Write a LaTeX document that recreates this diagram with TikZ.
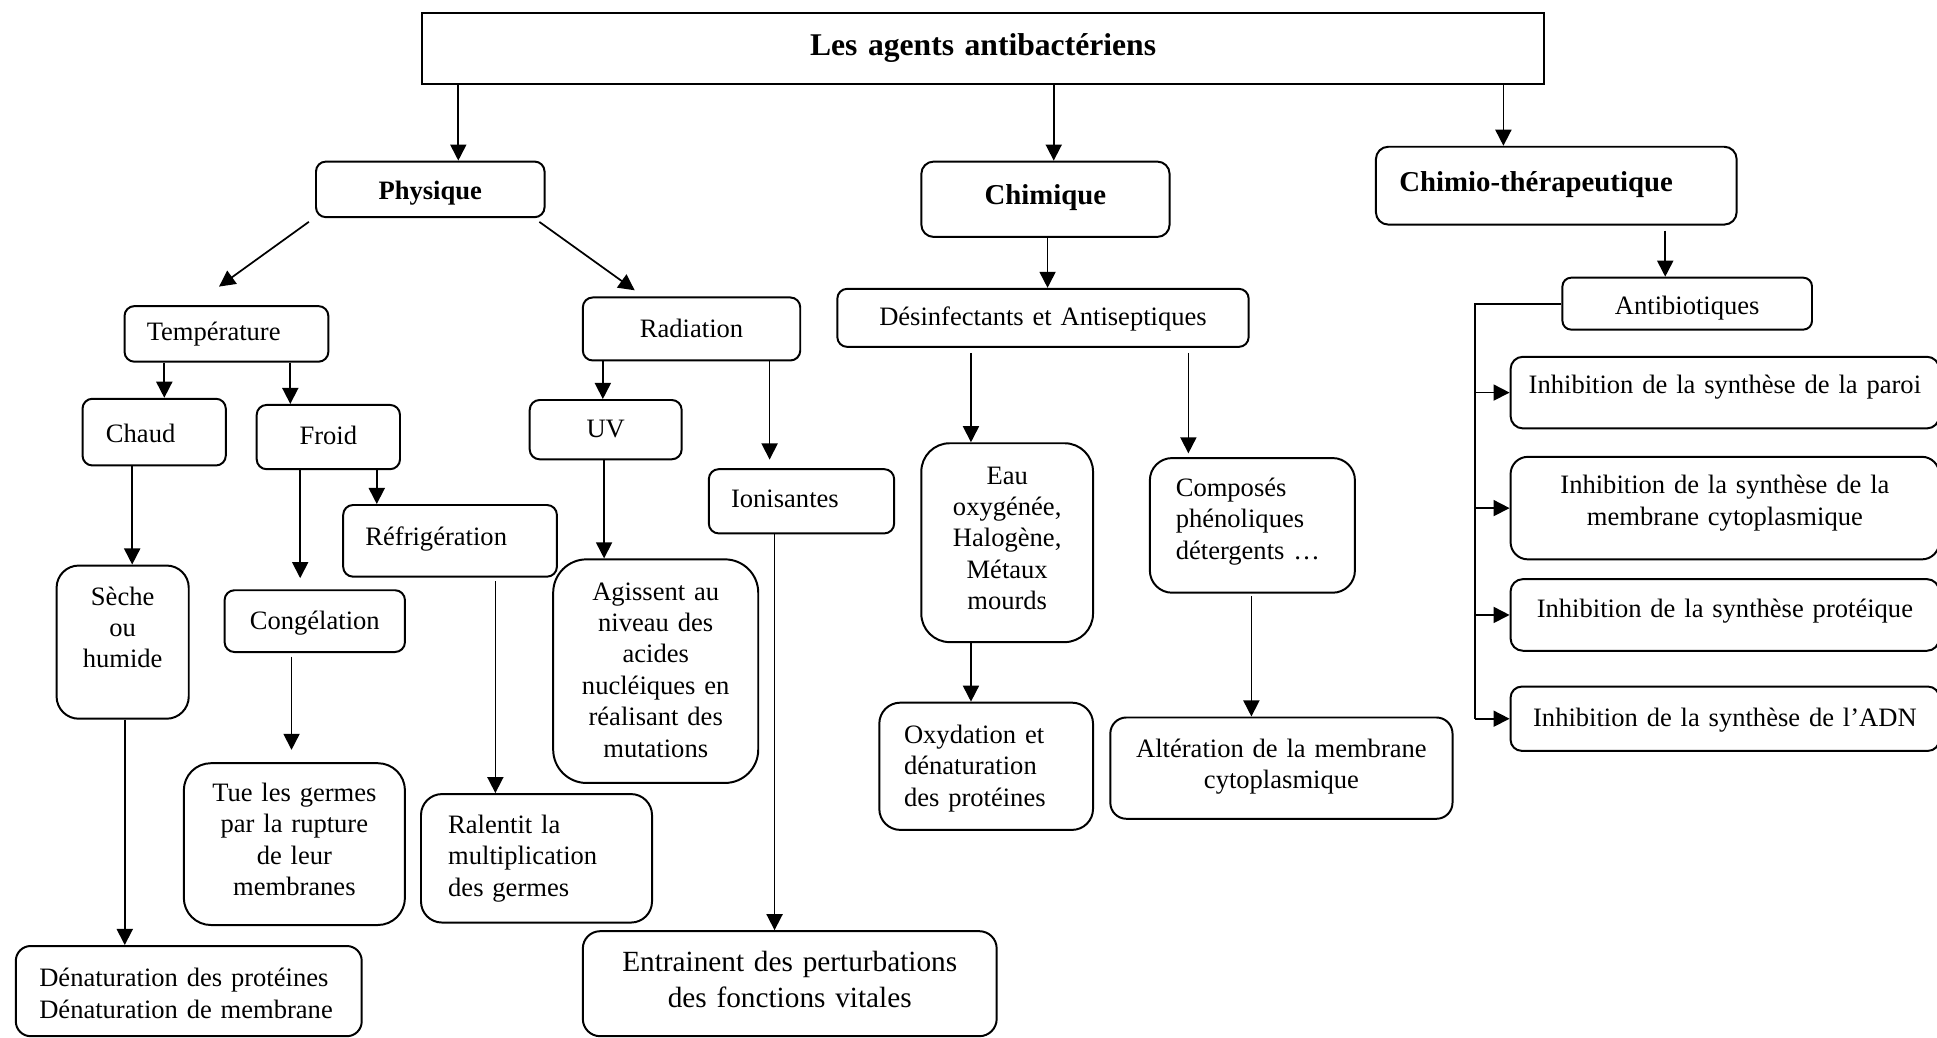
\documentclass[tikz,border=0pt]{standalone}
\usepackage{fontspec}
\setmainfont{Liberation Serif}
\usetikzlibrary{arrows.meta}

\begin{document}
\begin{tikzpicture}[x=1pt,y=1pt,yscale=-1,xscale=1,
  rbox/.style={draw, line width=1.6pt, rounded corners=8pt, inner xsep=0pt, inner ysep=0pt, anchor=north west, align=center, font=\fontsize{21.5}{25.4}\selectfont},
  headbox/.style={rbox, font=\fontsize{23.3}{27}\selectfont\bfseries},
  arr/.style={line width=1.4pt, -{Triangle[length=13pt,width=13pt]}}
]
\useasboundingbox (0,0) rectangle (1568,840);
\clip (0,0) rectangle (1568,840);

%Title
\node[rbox, sharp corners, text width=908pt, text height=34pt, text depth=23pt, font=\fontsize{25.6}{30}\selectfont\bfseries] (agents) at (341,10) {Les agents antibactériens};

%Level 1
\node[headbox, text width=185pt, text height=31pt, text depth=14pt, font=\fontsize{21.5}{25}\selectfont\bfseries] (phys) at (255,130) {Physique};
\node[headbox, text width=201pt, text height=35pt, text depth=26pt, rounded corners=10pt] (chim) at (745,130) {Chimique};
\node[headbox, align=left, inner xsep=19pt, text width=254pt, text height=36pt, text depth=27pt, rounded corners=10pt] (chimio) at (1113,118) {Chimio-thérapeutique};

%Level 2
\node[rbox, align=left, inner xsep=18pt, text width=129pt, text height=28pt, text depth=17pt] (temp) at (100,247) {Température};
\node[rbox, text width=176pt, text height=32pt, text depth=19pt] (rad) at (471,240) {Radiation};
\node[rbox, text width=333pt, text height=30pt, text depth=17pt] (desinf) at (677,233) {Désinfectants et Antiseptiques};
\node[rbox, text width=202pt, text height=30pt, text depth=12pt, rounded corners=7pt] (antib) at (1264,224) {Antibiotiques};

%Physique branch
\node[rbox, align=left, inner xsep=19pt, text width=78pt, text height=35pt, text depth=19pt] (chaud) at (66,322) {Chaud};
\node[rbox, text width=116pt, text height=32pt, text depth=20pt] (froid) at (207,327) {Froid};
\node[rbox, text width=123pt, text height=30pt, text depth=18pt] (uv) at (428,323) {UV};
\node[rbox, align=left, inner xsep=18pt, text width=114pt, text height=31pt, text depth=21pt] (ionis) at (573,379) {Ionisantes};
\node[rbox, align=left, inner xsep=18pt, text width=137pt, text height=33pt, text depth=25pt] (refrig) at (277,408) {Réfrigération};
\node[rbox, text width=107pt, text height=32pt, text depth=92pt, rounded corners=18pt] (seche) at (45,457) {Sèche\\ou\\humide};
\node[rbox, text width=146pt, text height=32pt, text depth=18pt] (congel) at (181,477) {Congélation};
\node[rbox, text width=179pt, text height=31pt, text depth=100pt, rounded corners=22pt] (tue) at (148,617) {Tue les germes\\par la rupture\\de leur\\membranes};
\node[rbox, align=left, inner xsep=22pt, text width=143pt, text height=32pt, text depth=72pt, rounded corners=17pt] (ralent) at (340,642) {Ralentit la\\multiplication\\des germes};
\node[rbox, text width=166pt, text height=33pt, text depth=148pt, rounded corners=27pt] (agiss) at (447,452) {Agissent au\\niveau des\\acides\\nucléiques en\\réalisant des\\mutations};
\node[rbox, text width=335pt, text height=33pt, text depth=52pt, rounded corners=14pt, font=\fontsize{23.7}{29}\selectfont] (entr) at (471,753) {Entrainent des perturbations\\des fonctions vitales};
\node[rbox, align=left, inner xsep=19pt, text width=242pt, text height=33pt, text depth=40pt, rounded corners=12pt] (denat) at (12,765) {Dénaturation des protéines\\Dénaturation de membrane};

%Chimique branch
\node[rbox, text width=139pt, text height=33pt, text depth=128pt, rounded corners=23pt] (eau) at (745,358) {Eau\\oxygénée,\\Halogène,\\Métaux\\mourds};
\node[rbox, align=left, inner xsep=20pt, text width=133pt, text height=33pt, text depth=70pt, rounded corners=17pt] (oxyd) at (711,568) {Oxydation et\\dénaturation\\des protéines};
\node[rbox, align=left, inner xsep=21pt, text width=124pt, text height=31pt, text depth=78pt, rounded corners=18pt] (compos) at (930,370) {Composés\\phénoliques\\détergents …};
\node[rbox, text width=277pt, text height=32pt, text depth=50pt, rounded corners=13pt] (alter) at (898,580) {Altération de la membrane\\cytoplasmique};

%Chimio branch
\node[rbox, text width=347pt, text height=30pt, text depth=28pt, rounded corners=10pt] (inh1) at (1222,288) {Inhibition de la synthèse de la paroi};
\node[rbox, text width=347pt, text height=30pt, text depth=53pt, rounded corners=14pt] (inh2) at (1222,369) {Inhibition de la synthèse de la\\membrane cytoplasmique};
\node[rbox, text width=347pt, text height=31pt, text depth=27pt, rounded corners=10pt] (inh3) at (1222,468) {Inhibition de la synthèse protéique};
\node[rbox, text width=347pt, text height=32pt, text depth=20pt, rounded corners=9pt] (inh4) at (1222,555) {Inhibition de la synthèse de l’ADN};

%Arrows from title
\draw[arr] (371,0 |- agents.south) -- (371,0 |- phys.north);
\draw[arr] (853,0 |- agents.south) -- (853,0 |- chim.north);
\draw[arr] (1217,0 |- agents.south) -- (1217,0 |- chimio.north);

%Physique arrows
\draw[arr] ([shift={(-5,3)}]phys.south west) -- ([shift={(-6,-15)}]temp.north);
\draw[arr] ([shift={(-5,3)}]phys.south east) -- ([shift={(-46,-5)}]rad.north);
\draw[arr] (133,0 |- temp.south) -- (133,0 |- chaud.north);
\draw[arr] (235,0 |- temp.south) -- (235,0 |- froid.north);
\draw[arr] (107,0 |- chaud.south) -- (107,0 |- seche.north);
\draw[arr] (101,0 |- seche.south) -- (101,0 |- denat.north);
\draw[arr, shorten >=9pt] (243,0 |- froid.south) -- (243,0 |- congel.north);
\draw[arr] (305,0 |- froid.south) -- (305,0 |- refrig.north);
\draw[arr, shorten <=3pt, shorten >=10pt] (236,0 |- congel.south) -- (236,0 |- tue.north);
\draw[arr, shorten <=3pt] (401,0 |- refrig.south) -- (401,0 |- ralent.north);
\draw[arr] (488,0 |- rad.south) -- (488,0 |- uv.north);
\draw[arr, shorten >=7pt] (623,0 |- rad.south) -- (623,0 |- ionis.north);
\draw[arr] (489,0 |- uv.south) -- (489,0 |- agiss.north);
\draw[arr] (627,0 |- ionis.south) -- (627,0 |- entr.north);

%Chimique arrows
\draw[arr] (848,0 |- chim.south) -- (848,0 |- desinf.north);
\draw[arr, shorten <=4pt] (786,0 |- desinf.south) -- (786,0 |- eau.north);
\draw[arr, shorten <=4pt, shorten >=3pt] (962,0 |- desinf.south) -- (962,0 |- compos.north);
\draw[arr] (786,0 |- eau.south) -- (786,0 |- oxyd.north);
\draw[arr, shorten <=2pt] (1013,0 |- compos.south) -- (1013,0 |- alter.north);

%Chimio arrows
\draw[arr, shorten <=4pt] (1348,0 |- chimio.south) -- (1348,0 |- antib.north);
\draw[line width=1.4pt] (antib.west) -| (1194,0 |- inh4.west);
\draw[arr] (1194,0 |- inh1.west) -- (inh1.west);
\draw[arr] (1194,0 |- inh2.west) -- (inh2.west);
\draw[arr] (1194,0 |- inh3.west) -- (inh3.west);
\draw[arr] (1194,0 |- inh4.west) -- (inh4.west);

\end{tikzpicture}
\end{document}
